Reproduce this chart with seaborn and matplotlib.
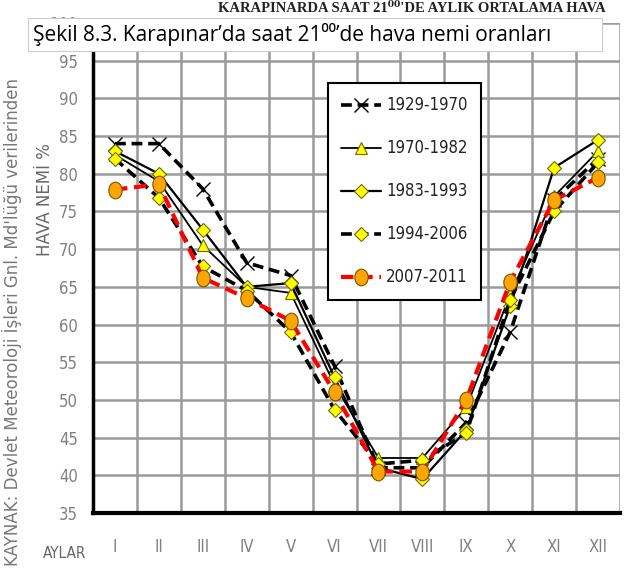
import numpy as np
import pandas as pd
import matplotlib
matplotlib.use("Agg")
import matplotlib.pyplot as plt
import seaborn as sns
from matplotlib.path import Path
from matplotlib.patches import Rectangle
from matplotlib.transforms import Affine2D
from matplotlib.font_manager import FontProperties

months = ["I", "II", "III", "IV", "V", "VI", "VII", "VIII", "IX", "X", "XI", "XII"]
s1929_1970 = [84, 84, 78, 68.2, 66.5, 54.5, 41, 41, 47, 59, 76.5, 82]
s1970_1982 = [82.5, 79, 70.5, 65, 64.2, 52, 42.3, 42.3, 49, 64, 77, 83]
s1983_1993 = [83, 80, 72.6, 65, 65.5, 53, 41, 39.5, 46, 62.5, 80.8, 84.5]
s1994_2006 = [82, 76.8, 67.7, 64.5, 59, 48.7, 41.5, 42, 45.6, 63.3, 75, 81.5]
s2007_2011 = [77.9, 78.6, 66.2, 63.5, 60.5, 51, 40.5, 40.5, 50, 65.7, 76.5, 79.5]
series_names = ["1929-1970", "1970-1982", "1983-1993", "1994-2006", "2007-2011"]
yticks = list(range(35, 101, 5))

sns.set_theme(style="white")
plt.rcParams["font.family"] = ["DejaVu Sans"]

def narrow(size):
    return FontProperties(family="DejaVu Sans", stretch="condensed", size=size)

fig = plt.figure(figsize=(6.39, 5.71), dpi=100)
ax = fig.add_axes([93/639, 1-513/571, (620-93)/639, (513-23)/571])

x = np.arange(len(months))
ellipse = Path.unit_circle().transformed(Affine2D().scale(0.8, 1.0))

styles = [
    dict(color="black", linestyle=(0, (3, 1.6)), linewidth=2.6, marker="x", markersize=10,
         markeredgecolor="black", markeredgewidth=1.0),
    dict(color="black", linestyle="-", linewidth=1.3, marker="^", markersize=9,
         markerfacecolor="#FFFF00", markeredgecolor="#6b6b00", markeredgewidth=0.8),
    dict(color="black", linestyle="-", linewidth=1.6, marker="D", markersize=7,
         markerfacecolor="#FFFF00", markeredgecolor="#6b6b00", markeredgewidth=0.8),
    dict(color="black", linestyle=(0, (3, 1.6)), linewidth=2.6, marker="D", markersize=7,
         markerfacecolor="#FFFF00", markeredgecolor="#6b6b00", markeredgewidth=0.8),
    dict(color="#FF0000", linestyle=(0, (3, 1.6)), linewidth=3.0, marker=ellipse, markersize=12,
         markerfacecolor="#FFA500", markeredgecolor="#7a5200", markeredgewidth=0.8),
]
data = [s1929_1970, s1970_1982, s1983_1993, s1994_2006, s2007_2011]
for name, vals, st in zip(series_names, data, styles):
    sns.lineplot(x=x, y=vals, ax=ax, label=name, **st)

ax.set_xlim(-0.5, 11.5)
ax.set_ylim(35, 100)
ax.set_xticks(np.arange(-0.5, 12, 1))
ax.set_xticklabels([])
ax.set_xticks(x, minor=True)
ax.set_xticklabels(months, minor=True, fontproperties=narrow(12), color="#808080")
ax.tick_params(axis="x", which="minor", length=0, pad=18)
ax.tick_params(axis="x", which="major", length=6, width=2, color="black", direction="inout")
ax.set_yticks(yticks)
ax.set_yticklabels([str(v) for v in yticks], fontproperties=narrow(12), color="#808080")
ax.tick_params(axis="y", length=6, width=2, color="black", direction="inout", pad=8)
ax.grid(True, which="major", color="#9a9a9a", linewidth=1.8)
for side in ["top", "right"]:
    ax.spines[side].set_visible(False)
ax.spines["left"].set_color("black")
ax.spines["left"].set_linewidth(2.5)
ax.spines["bottom"].set_color("black")
ax.spines["bottom"].set_linewidth(3)
ax.set_xlabel("")
ax.set_ylabel("")

leg = ax.legend(loc="upper left", bbox_to_anchor=((328-93)/527, (513-83)/490),
                frameon=True, fancybox=False, edgecolor="black", framealpha=1,
                prop=narrow(12), handlelength=2.4, labelspacing=1.5,
                borderpad=0.8, handletextpad=0.3, borderaxespad=0)
leg.get_frame().set_linewidth(1.5)
for t in leg.get_texts():
    t.set_color("#222222")

# axis texts
fig.text(45/639, 1-200/571, "HAVA NEMİ %", rotation=90, ha="center", va="center",
         fontsize=12, color="#666666")
fig.text(12/639, 1-566/571, "KAYNAK: Devlet Meteoroloji İşleri Gnl. Md'lüğü verilerinden",
         rotation=90, ha="center", va="bottom", fontsize=12, color="#777777")
fig.text(65/639, 1-553/571, "AYLAR", ha="center", va="center",
         fontproperties=narrow(11), color="#666666")

# original (partially hidden) title
fig.text(412/639, 1-2/571, "KARAPINARDA SAAT 21⁰⁰'DE AYLIK ORTALAMA HAVA",
         ha="center", va="top", fontproperties=FontProperties(
             family=["Liberation Serif", "DejaVu Serif"], size=10.5, weight="bold"),
         color="#222222")

# caption box over title
fig.patches.append(Rectangle((28/639, 1-51/571), (602-28)/639, (51-18)/571,
                             transform=fig.transFigure, facecolor="white",
                             edgecolor="#cccccc", linewidth=0.8, zorder=5))
fig.text(33/639, 1-35/571, "Şekil 8.3. Karapınar’da saat 21⁰⁰’de hava nemi oranları",
         ha="left", va="center", family=["Open Sans", "DejaVu Sans"], fontsize=15,
         color="black", zorder=6)

fig.savefig("out.png", dpi=100)
